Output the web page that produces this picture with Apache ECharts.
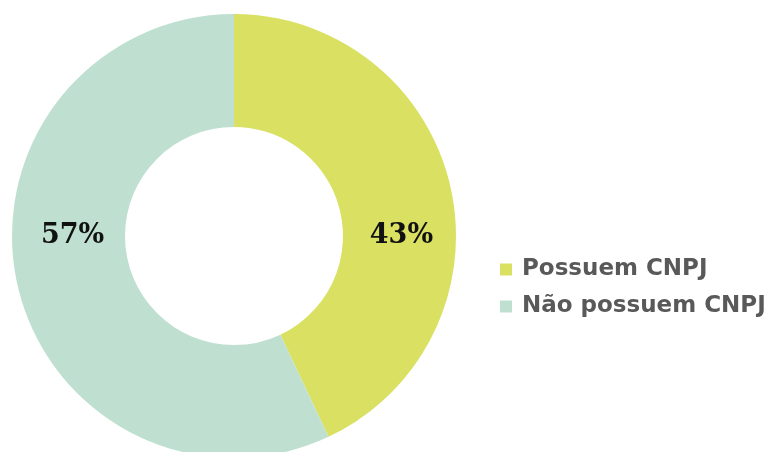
<!DOCTYPE html>
<html>
<head>
<meta charset="utf-8">
<script src="https://cdn.jsdelivr.net/npm/echarts@6/dist/echarts.min.js"></script>
<style>
  html, body { margin: 0; padding: 0; background: #ffffff; }
  #chart { width: 770px; height: 452px; }
</style>
</head>
<body>
<div id="chart"></div>
<script>
// Share of respondents with / without a CNPJ registration
const categories = ['Possuem CNPJ', 'Não possuem CNPJ'];
const shares = [43, 57];
const colors = ['#D9E062', '#BFE0D0'];

const centerX = 234;
const centerY = 236;

const chart = echarts.init(document.getElementById('chart'), null, { renderer: 'canvas' });

chart.setOption({
  animation: false,
  color: colors,
  legend: {
    orient: 'vertical',
    left: 495,
    top: 253,
    itemWidth: 12,
    itemHeight: 12,
    itemGap: 14,
    icon: 'rect',
    textStyle: {
      color: '#595959',
      fontSize: 23,
      fontWeight: 'bold',
      fontFamily: 'DejaVu Sans',
      padding: [0, 0, 0, 5]
    },
    data: categories
  },
  series: [{
    type: 'pie',
    center: [centerX, centerY],
    radius: [109, 222],
    startAngle: 90,
    clockwise: true,
    avoidLabelOverlap: false,
    emphasis: { disabled: true },
    label: {
      show: true,
      position: 'inside',
      formatter: '{c}%',
      color: '#111111',
      fontSize: 27,
      fontWeight: 'bold',
      fontFamily: 'DejaVu Serif'
    },
    labelLine: { show: false },
    // keep each label on the ring's horizontal midline
    labelLayout: function () {
      return { y: centerY, dx: 3 };
    },
    data: categories.map((name, i) => ({ name: name, value: shares[i] }))
  }]
});
</script>
</body>
</html>
